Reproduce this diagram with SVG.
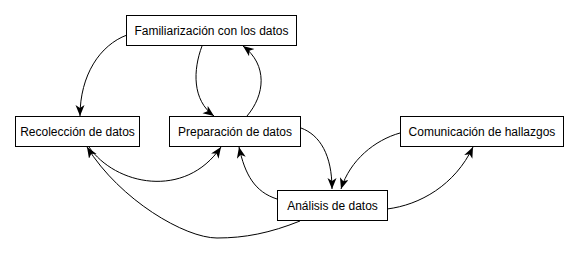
<svg xmlns="http://www.w3.org/2000/svg" width="578" height="253" viewBox="0 0 578 253">
  <style>
    .box { fill: #ffffff; stroke: #000000; stroke-width: 1; }
    .lbl { font-family: "Liberation Sans", Arial, sans-serif; font-size: 12px; fill: #000000; text-anchor: middle; }
    .edge { fill: none; stroke: #000000; stroke-width: 1; marker-end: url(#arrow); }
  </style>
  <defs>
    <marker id="arrow" markerUnits="userSpaceOnUse" markerWidth="12" markerHeight="10" refX="11" refY="4.5" orient="auto">
      <path d="M0,0 L11,4.5 L0,9 L3,4.5 z" fill="#000000"/>
    </marker>
  </defs>
  <rect width="578" height="253" fill="#ffffff"/>

  <g id="connectors">
    <path class="edge" d="M127,35 C100,45 80,75 80,116"/>
    <path class="edge" d="M202,46 C193,70 192,100 214,116"/>
    <path class="edge" d="M247,116 C265,95 268,65 243,46"/>
    <path class="edge" d="M89,147 C115,185 185,200 221,147"/>
    <path class="edge" d="M300,221 C270,233 245,238 217,238 C185,238 120,200 87,147"/>
    <path class="edge" d="M277,199 C255,192 245,175 239,147"/>
    <path class="edge" d="M301,128 C320,135 332,155 332,189"/>
    <path class="edge" d="M400,133 C375,140 350,160 341,189"/>
    <path class="edge" d="M387,209 C420,205 455,185 473,147"/>
  </g>

  <g id="familiarizacion">
    <rect class="box" x="126.5" y="15.5" width="170" height="30"/>
    <text class="lbl" x="211.5" y="35">Familiarización con los datos</text>
  </g>
  <g id="recoleccion">
    <rect class="box" x="15.5" y="116.5" width="124" height="30"/>
    <text class="lbl" x="77.5" y="136">Recolección de datos</text>
  </g>
  <g id="preparacion">
    <rect class="box" x="169.5" y="116.5" width="131" height="30"/>
    <text class="lbl" x="235" y="136">Preparación de datos</text>
  </g>
  <g id="comunicacion">
    <rect class="box" x="400.5" y="116.5" width="163" height="30"/>
    <text class="lbl" x="482" y="136">Comunicación de hallazgos</text>
  </g>
  <g id="analisis">
    <rect class="box" x="277.5" y="190.5" width="110" height="30"/>
    <text class="lbl" x="332.5" y="210">Análisis de datos</text>
  </g>
</svg>
